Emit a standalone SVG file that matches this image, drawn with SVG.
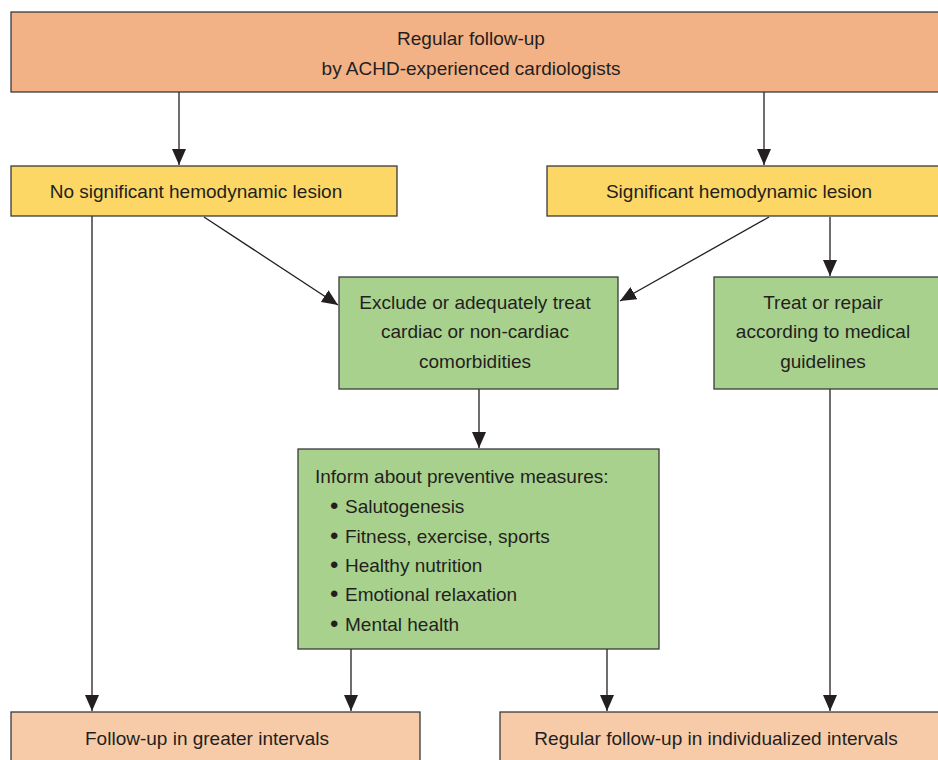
<svg xmlns="http://www.w3.org/2000/svg" width="938" height="760" viewBox="0 0 938 760">
<defs>
<marker id="ah" viewBox="0 0 16 14" refX="16" refY="7" markerWidth="16" markerHeight="14" markerUnits="userSpaceOnUse" orient="auto">
<path d="M0,0 L16,7 L0,14 Z" fill="#231f20"/>
</marker>
<style>
.box{stroke:#3a3a3a;stroke-width:1.3}
.top{fill:#f3b186}
.yel{fill:#fdd765}
.grn{fill:#a9d18e}
.bot{fill:#f8cba8}
text{font-family:"Liberation Sans",Arial,sans-serif;font-size:19px;fill:#231f20}
.c{text-anchor:middle}
.b{font-size:24px}
.ln{stroke:#231f20;stroke-width:1.3;fill:none;marker-end:url(#ah)}
</style>
</defs>
<rect width="938" height="760" fill="#fff"/>
<g id="connectors">
<line class="ln" x1="179" y1="92" x2="179" y2="165"/>
<line class="ln" x1="764" y1="92" x2="764" y2="165"/>
<line class="ln" x1="204" y1="217" x2="338" y2="305"/>
<line class="ln" x1="769" y1="217" x2="620" y2="301"/>
<line class="ln" x1="830" y1="217" x2="830" y2="276"/>
<line class="ln" x1="479" y1="389" x2="479" y2="448"/>
<line class="ln" x1="92" y1="216" x2="92" y2="711"/>
<line class="ln" x1="351" y1="649" x2="351" y2="711"/>
<line class="ln" x1="607" y1="649" x2="607" y2="711"/>
<line class="ln" x1="830" y1="389" x2="830" y2="711"/>
</g>
<g id="n-top">
<rect class="box top" x="11" y="12" width="940" height="80"/>
<text class="c" x="471" y="45">Regular follow-up</text>
<text class="c" x="471" y="75">by ACHD-experienced cardiologists</text>
</g>
<g id="n-nosig">
<rect class="box yel" x="11" y="166" width="386" height="50"/>
<text class="c" x="196" y="198">No significant hemodynamic lesion</text>
</g>
<g id="n-sig">
<rect class="box yel" x="547" y="166" width="400" height="50"/>
<text class="c" x="739" y="198">Significant hemodynamic lesion</text>
</g>
<g id="n-exclude">
<rect class="box grn" x="339" y="277" width="279" height="112"/>
<text class="c" x="475" y="309">Exclude or adequately treat</text>
<text class="c" x="475" y="338">cardiac or non-cardiac</text>
<text class="c" x="475" y="368">comorbidities</text>
</g>
<g id="n-treat">
<rect class="box grn" x="714" y="277" width="240" height="112"/>
<text class="c" x="823" y="309">Treat or repair</text>
<text class="c" x="823" y="338">according to medical</text>
<text class="c" x="823" y="368">guidelines</text>
</g>
<g id="n-inform">
<rect class="box grn" x="298" y="449" width="361" height="200"/>
<text x="315" y="483">Inform about preventive measures:</text>
<text><tspan class="b" x="330" y="514">•</tspan><tspan x="345" y="513">Salutogenesis</tspan></text>
<text><tspan class="b" x="330" y="544">•</tspan><tspan x="345" y="543">Fitness, exercise, sports</tspan></text>
<text><tspan class="b" x="330" y="573">•</tspan><tspan x="345" y="572">Healthy nutrition</tspan></text>
<text><tspan class="b" x="330" y="602">•</tspan><tspan x="345" y="601">Emotional relaxation</tspan></text>
<text><tspan class="b" x="330" y="632">•</tspan><tspan x="345" y="631">Mental health</tspan></text>
</g>
<g id="n-greater">
<rect class="box bot" x="11" y="712" width="409" height="60"/>
<text class="c" x="207" y="745">Follow-up in greater intervals</text>
</g>
<g id="n-indiv">
<rect class="box bot" x="500" y="712" width="450" height="60"/>
<text class="c" x="716" y="745">Regular follow-up in individualized intervals</text>
</g>
</svg>
